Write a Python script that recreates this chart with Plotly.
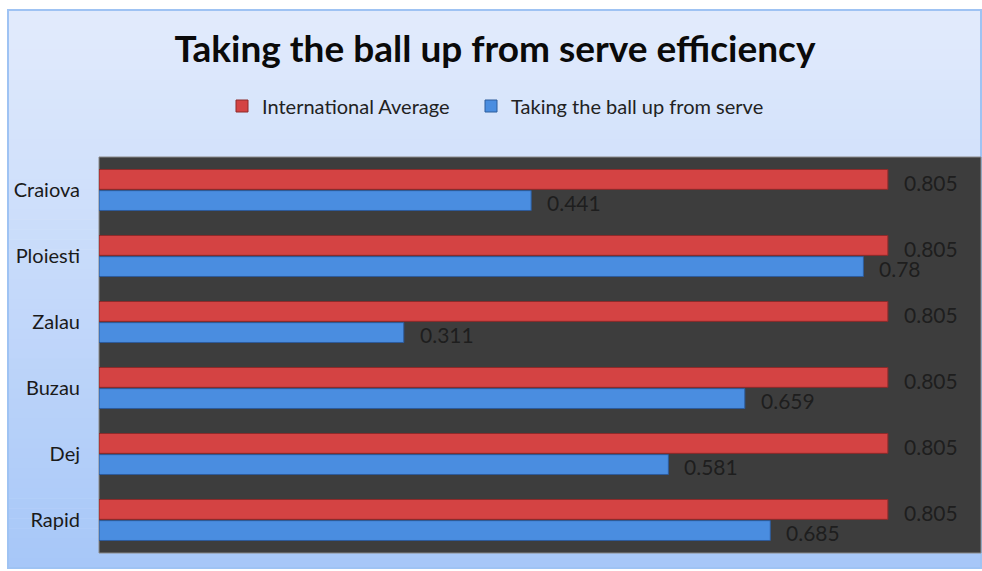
import plotly.graph_objects as go

categories = ["Craiova", "Ploiesti", "Zalau", "Buzau", "Dej", "Rapid"]
intl_avg = [0.805, 0.805, 0.805, 0.805, 0.805, 0.805]
ball_up = [0.441, 0.78, 0.311, 0.659, 0.581, 0.685]
series_names = ["International Average", "Taking the ball up from serve"]
title_text = "Taking the ball up from serve efficiency"

W, H = 982, 571
L, R, T, B = 99, 1, 157, 18
PW, PH = W - L - R, H - T - B

def px_x(p):
    return (p - L) / PW

def px_y(p):
    return (H - B - p) / PH

FONT = "Lato"

fig = go.Figure()
fig.add_trace(go.Bar(
    y=categories, x=intl_avg, orientation="h", name=series_names[0],
    marker=dict(color="#d44343", line=dict(color="#8e2a2a", width=1)),
    legend="legend", showlegend=True,
))
fig.add_trace(go.Bar(
    y=categories, x=ball_up, orientation="h", name=series_names[1],
    marker=dict(color="#4a8de0", line=dict(color="#2d5c9c", width=1)),
    legend="legend2", showlegend=True,
))

# value labels
ann = []
for c, v in zip(categories, intl_avg):
    ann.append(dict(x=v, y=c, xref="x", yref="y", text=f"{v:g}", showarrow=False,
                    xanchor="left", yanchor="middle", xshift=14, yshift=8,
                    font=dict(family=FONT, size=21, color="#1e1e1e")))
for c, v in zip(categories, ball_up):
    ann.append(dict(x=v, y=c, xref="x", yref="y", text=f"{v:g}", showarrow=False,
                    xanchor="left", yanchor="middle", xshift=14, yshift=-12,
                    font=dict(family=FONT, size=21, color="#1e1e1e")))

# background gradient of chart area
shapes = []
top, bot = 10, 568
n = 56
c0 = (226, 235, 252)
c1 = (167, 199, 248)
for i in range(n):
    y0p = top + (bot - top) * i / n
    y1p = top + (bot - top) * (i + 1) / n + 0.6
    t = i / (n - 1)
    col = tuple(round(c0[k] + (c1[k] - c0[k]) * t) for k in range(3))
    shapes.append(dict(type="rect", xref="paper", yref="paper", layer="below",
                       x0=px_x(8), x1=px_x(982), y0=px_y(y1p), y1=px_y(y0p),
                       fillcolor="rgb(%d,%d,%d)" % col, line=dict(width=0)))
shapes.append(dict(type="rect", xref="paper", yref="paper", layer="below",
                   x0=px_x(8), x1=px_x(981), y0=px_y(568), y1=px_y(10),
                   fillcolor="rgba(0,0,0,0)", line=dict(color="#9fc3f3", width=2)))
shapes.append(dict(type="rect", xref="paper", yref="paper", layer="below",
                   x0=0, x1=1, y0=0, y1=1,
                   fillcolor="#3d3d3d", line=dict(color="#8a8a8a", width=1)))

legend_common = dict(orientation="h", xref="container", xanchor="left",
                     y=1 - 106 / H, yref="container", yanchor="middle",
                     font=dict(family=FONT, size=20, color="#222222"),
                     bgcolor="rgba(0,0,0,0)", itemwidth=30, visible=True)

fig.update_layout(
    width=W, height=H,
    margin=dict(l=L, r=R, t=T, b=B),
    paper_bgcolor="white",
    plot_bgcolor="#3d3d3d",
    showlegend=True,
    barmode="group",
    bargap=0.36,
    bargroupgap=0.06,
    title=dict(text="<b>" + title_text + "</b>", x=0.504, xref="container", xanchor="center",
               y=1 - 49 / H, yref="container", yanchor="middle",
               font=dict(family=FONT, size=37, color="#0a0a0a")),
    legend=dict(x=(237 - 15) / W, **legend_common),
    legend2=dict(x=(486 - 15) / W, **legend_common),
    xaxis=dict(range=[0, 0.9], showgrid=False, showticklabels=False, zeroline=False,
               showline=False, ticks=""),
    yaxis=dict(autorange="reversed", showgrid=False, zeroline=False, showline=False,
               ticks="", ticklabelstandoff=18,
               tickfont=dict(family=FONT, size=20, color="#1a1a1a")),
    shapes=shapes,
    annotations=ann,
)

fig.write_html("out.html")
